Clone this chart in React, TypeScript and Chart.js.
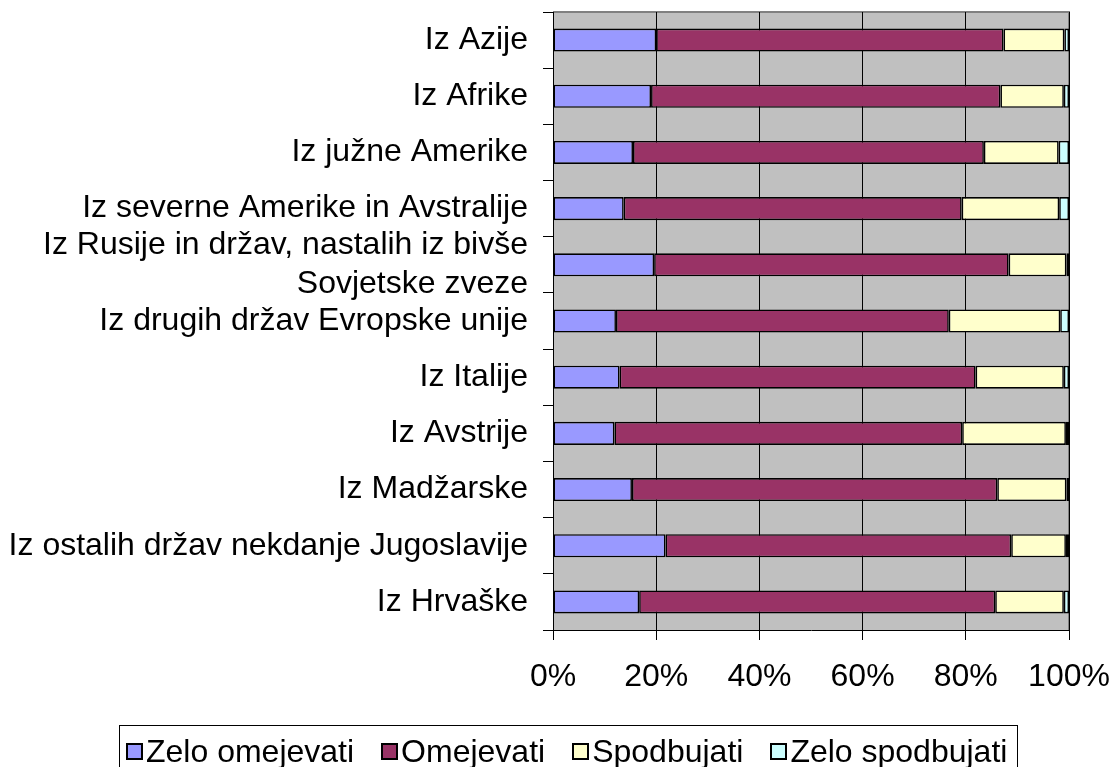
import React, { useEffect, useRef } from 'react';
import { Chart, registerables } from 'chart.js';

Chart.register(...registerables);

const categories: (string | string[])[] = [
  'Iz Azije',
  'Iz Afrike',
  'Iz južne Amerike',
  'Iz severne Amerike in Avstralije',
  ['Iz Rusije in držav, nastalih iz bivše', 'Sovjetske zveze'],
  'Iz drugih držav Evropske unije',
  'Iz Italije',
  'Iz Avstrije',
  'Iz Madžarske',
  'Iz ostalih držav nekdanje Jugoslavije',
  'Iz Hrvaške',
];

const seriesNames = ['Zelo omejevati', 'Omejevati', 'Spodbujati', 'Zelo spodbujati'];

const zeloOmejevati = [20.0, 19.0, 15.5, 13.7, 19.6, 12.2, 12.9, 11.9, 15.3, 21.8, 16.7];
const omejevati = [67.3, 67.7, 68.0, 65.5, 68.7, 64.5, 69.0, 67.4, 70.8, 67.0, 69.0];
const spodbujati = [11.8, 12.3, 14.5, 18.9, 11.2, 21.6, 17.1, 20.1, 13.4, 10.6, 13.3];
const zeloSpodbujati = [0.9, 1.0, 2.0, 1.9, 0.5, 1.7, 1.0, 0.6, 0.5, 0.6, 1.0];

const xTickValues = [0, 20, 40, 60, 80, 100];

const seriesColors = ['#9999FF', '#993366', '#FFFFCC', '#CCFFFF'];

const FONT = "'Liberation Sans', Arial, sans-serif";

const plotBackground = {
  id: 'plotBackground',
  beforeDraw(chart: any) {
    const { ctx, chartArea } = chart;
    const { left, top, right, bottom } = chartArea;
    ctx.save();
    ctx.fillStyle = '#C0C0C0';
    ctx.fillRect(left, top, right - left, bottom - top);
    ctx.strokeStyle = '#808080';
    ctx.lineWidth = 2;
    ctx.beginPath();
    ctx.moveTo(left, top);
    ctx.lineTo(right, top);
    ctx.lineTo(right, bottom);
    ctx.stroke();
    ctx.restore();
  },
};

export default function App() {
  const ref = useRef<HTMLCanvasElement>(null);

  useEffect(() => {
    const values = [zeloOmejevati, omejevati, spodbujati, zeloSpodbujati];
    const chart = new Chart(ref.current as HTMLCanvasElement, {
      type: 'bar',
      data: {
        labels: categories as any,
        datasets: seriesNames.map((name, i) => ({
          label: name,
          data: values[i],
          backgroundColor: seriesColors[i],
          borderColor: '#000000',
          borderWidth: 1.6,
          borderSkipped: false,
          categoryPercentage: 1,
          barPercentage: 0.41,
        })),
      },
      options: {
        indexAxis: 'y',
        responsive: false,
        animation: false,
        layout: { padding: { top: 12, right: 41, left: 0, bottom: 0 } },
        plugins: {
          legend: { display: false },
          tooltip: { enabled: false },
        },
        scales: {
          x: {
            stacked: true,
            min: 0,
            max: 100,
            afterBuildTicks: (scale: any) => {
              scale.ticks = xTickValues.map((v) => ({ value: v }));
            },
            afterFit: (scale: any) => {
              scale.height = 137;
              scale.paddingLeft = 0;
              scale.paddingRight = 0;
            },
            ticks: {
              callback: (v: any) => `${v}%`,
              font: { family: FONT, size: 32 },
              color: '#000000',
              padding: 18,
              maxRotation: 0,
              autoSkip: false,
            },
            grid: { color: '#000000', lineWidth: 1, tickLength: 10, drawTicks: true },
            border: { color: '#000000', width: 1 },
          },
          y: {
            stacked: true,
            afterFit: (scale: any) => {
              scale.width = 553;
              scale.paddingTop = 0;
              scale.paddingBottom = 0;
            },
            ticks: {
              font: { family: FONT, size: 32 },
              color: '#000000',
              padding: 15,
              autoSkip: false,
            },
            grid: {
              offset: true,
              drawOnChartArea: false,
              color: '#000000',
              tickLength: 10,
              drawTicks: true,
            },
            border: { color: '#000000', width: 1 },
          },
        },
      },
      plugins: [plotBackground],
    } as any);
    return () => chart.destroy();
  }, []);

  return (
    <div
      style={{
        position: 'absolute',
        left: 0,
        top: 0,
        width: 1110,
        height: 767,
        background: '#ffffff',
        overflow: 'hidden',
      }}
    >
      <canvas ref={ref} width={1110} height={767} style={{ display: 'block' }} />
      <div
        style={{
          position: 'absolute',
          left: 119,
          top: 725,
          width: 899,
          height: 52,
          border: '1px solid #000',
          boxSizing: 'border-box',
          display: 'flex',
          alignItems: 'center',
          justifyContent: 'flex-start',
          paddingLeft: 6,
          gap: 27,
          fontFamily: FONT,
          fontSize: 32,
          lineHeight: 1,
          whiteSpace: 'nowrap',
          color: '#000',
        }}
      >
        {seriesNames.map((name, i) => (
          <span key={name} style={{ display: 'inline-flex', alignItems: 'center', flex: 'none' }}>
            <span
              style={{
                display: 'inline-block',
                width: 17,
                height: 17,
                border: '2px solid #000',
                boxSizing: 'border-box',
                background: seriesColors[i],
                marginRight: 3,
                flex: 'none',
              }}
            />
            {name}
          </span>
        ))}
      </div>
    </div>
  );
}
